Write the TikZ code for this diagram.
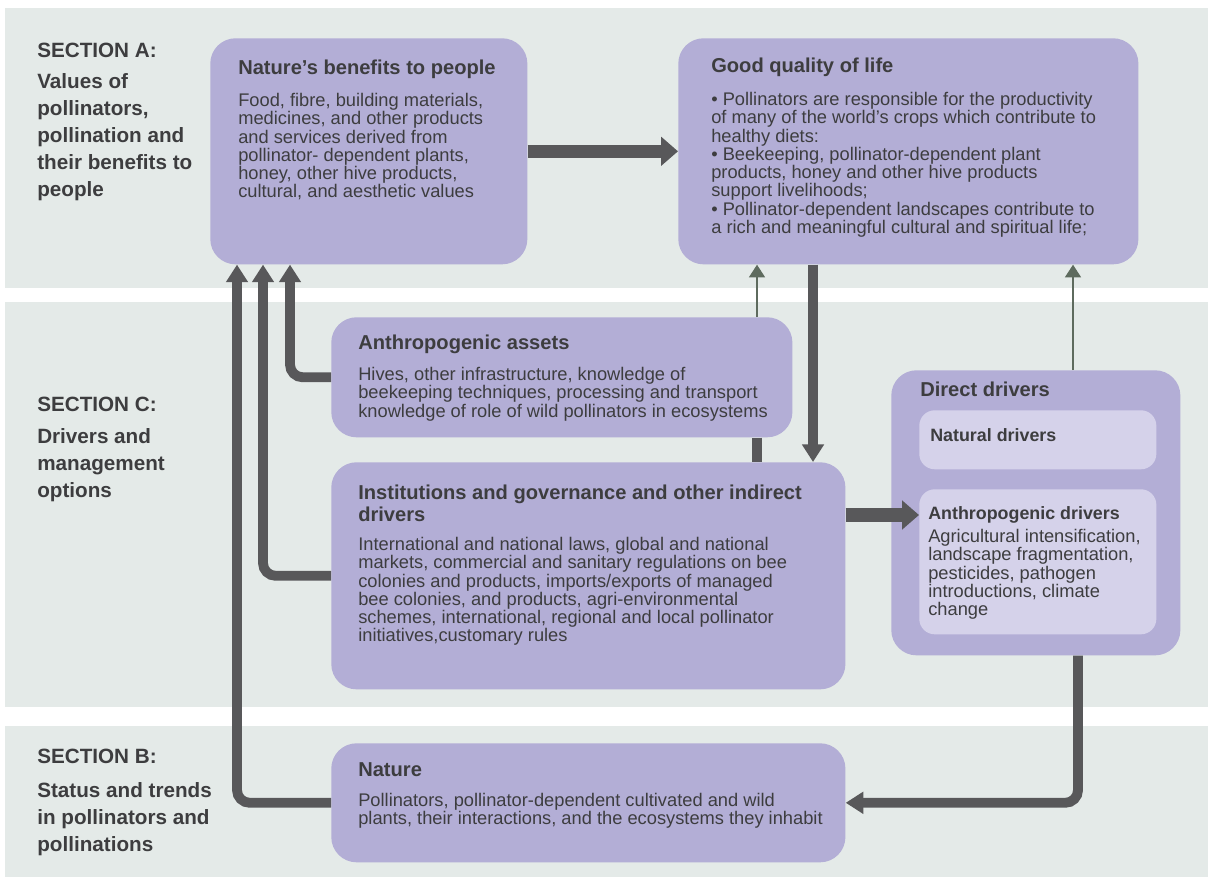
\documentclass[tikz,border=0pt]{standalone}
\usepackage{fontspec}
\setmainfont{Liberation Sans}
\usetikzlibrary{arrows.meta,calc}

\definecolor{bandgrey}{HTML}{E4EAE8}
\definecolor{boxlilac}{HTML}{B3AED6}
\definecolor{innerlilac}{HTML}{D5D2EA}
\definecolor{arrowgrey}{HTML}{58585A}
\definecolor{thingreen}{HTML}{5E6B5E}
\definecolor{textgrey}{HTML}{3D3D3F}

\tikzset{
  band/.style={fill=bandgrey,draw=none},
  panel/.style={fill=boxlilac,draw=none,rounded corners=18pt,anchor=north west,inner sep=0pt},
  subpanel/.style={fill=innerlilac,draw=none,rounded corners=11pt,anchor=north west,inner sep=0pt},
  heading/.style={anchor=north west,inner sep=0pt,text=textgrey,align=left,
    font=\fontsize{14.3}{15.4}\selectfont\bfseries},
  subheading/.style={heading,font=\fontsize{12.7}{14}\selectfont\bfseries},
  bodytext/.style={anchor=north west,inner sep=0pt,text=textgrey,align=left,
    font=\fontsize{13}{13}\selectfont},
  sectiontitle/.style={anchor=north west,inner sep=0pt,text=textgrey,align=left,
    font=\fontsize{14.7}{19.2}\selectfont\bfseries},
  flow/.style={draw=arrowgrey,line width=7pt,rounded corners=9pt,
    -{Triangle[width=15pt,length=12.5pt]}},
  wideflow/.style={flow,line width=9.5pt,-{Triangle[width=20pt,length=12pt]}},
  link/.style={draw=arrowgrey,line width=7pt},
  feedback/.style={draw=thingreen,line width=2pt,-{Triangle[width=11pt,length=9pt]}},
}

\begin{document}
\begin{tikzpicture}[x=0.025cm,y=-0.025cm]
    \useasboundingbox (0,0) rectangle (1208,879);

    %%%% Section bands %%%%%%%%%%%%%%%%%%%%%%%%%%%%%%%%%%%%%%%%%%%%%%%%%%%
    \path[band] (5,8) rectangle (1208,288);
    \path[band] (5,302) rectangle (1208,707);
    \path[band] (5,726) rectangle (1208,877);

    \node[sectiontitle] (secA) at (37,43) {SECTION A:};
    \node[sectiontitle] (secAtext) at (37,73)
      {Values of\\pollinators,\\pollination and\\their benefits to\\people};
    \node[sectiontitle] (secC) at (37,397) {SECTION C:};
    \node[sectiontitle] (secCtext) at (37,428)
      {Drivers and\\management\\options};
    \node[sectiontitle] (secB) at (37,749) {SECTION B:};
    \node[sectiontitle] (secBtext) at (37,782)
      {Status and trends\\in pollinators and\\pollinations};

    %%%% Section A boxes %%%%%%%%%%%%%%%%%%%%%%%%%%%%%%%%%%%%%%%%%%%%%%%%%
    \node[panel,minimum width=7.925cm,minimum height=5.65cm] (benefits) at (210,38) {};
    \node[heading] (benefitsHead) at ($(benefits.north west)+(28,22)$)
      {Nature’s benefits to people};
    \node[bodytext] (benefitsBody) at ($(benefits.north west)+(28,55)$)
      {Food, fibre, building materials,\\medicines, and other products\\
       and services derived from\\pollinator- dependent plants,\\
       honey, other hive products,\\cultural, and aesthetic values};

    \node[panel,minimum width=11.5cm,minimum height=5.65cm] (life) at (678,38) {};
    \node[heading] (lifeHead) at ($(life.north west)+(33,20)$) {Good quality of life};
    \node[bodytext] (lifeBody) at ($(life.north west)+(33,54)$)
      {• Pollinators are responsible for the productivity\\
       of many of the world’s crops which contribute to\\
       healthy diets:\\
       • Beekeeping, pollinator-dependent plant\\
       products, honey and other hive products\\
       support livelihoods;\\
       • Pollinator-dependent landscapes contribute to\\
       a rich and meaningful cultural and spiritual life;};

    %%%% Section C boxes %%%%%%%%%%%%%%%%%%%%%%%%%%%%%%%%%%%%%%%%%%%%%%%%%
    \node[panel,minimum width=11.525cm,minimum height=3cm] (assets) at (331,317) {};
    \node[heading] (assetsHead) at ($(assets.north west)+(27,18)$) {Anthropogenic assets};
    \node[bodytext] (assetsBody) at ($(assets.north west)+(27,50)$)
      {Hives, other infrastructure, knowledge of\\
       beekeeping techniques, processing and transport\\
       knowledge of role of wild pollinators in ecosystems};

    \node[panel,minimum width=12.85cm,minimum height=5.675cm] (inst) at (331,462) {};
    \node[heading] (instHead) at ($(inst.north west)+(27,23)$)
      {Institutions and governance and other indirect\\drivers};
    \node[bodytext] (instBody) at ($(inst.north west)+(27,75)$)
      {International and national laws, global and national\\
       markets, commercial and sanitary regulations on bee\\
       colonies and products, imports/exports of managed\\
       bee colonies, and products, agri-environmental\\
       schemes, international, regional and local pollinator\\
       initiatives,customary rules};

    \node[panel,minimum width=7.225cm,minimum height=7.125cm] (direct) at (891,370) {};
    \node[heading] (directHead) at ($(direct.north west)+(29,12)$) {Direct drivers};
    \node[subpanel,minimum width=5.925cm,minimum height=1.475cm] (natural) at (919,410) {};
    \node[subheading] (naturalHead) at ($(natural.north west)+(11,18)$) {Natural drivers};
    \node[subpanel,minimum width=5.925cm,minimum height=3.625cm] (anthro) at (919,489) {};
    \node[subheading] (anthroHead) at ($(anthro.north west)+(9,17)$) {Anthropogenic drivers};
    \node[bodytext] (anthroBody) at ($(anthro.north west)+(9,40)$)
      {Agricultural intensification,\\landscape fragmentation,\\
       pesticides, pathogen\\introductions, climate\\change};

    %%%% Section B box %%%%%%%%%%%%%%%%%%%%%%%%%%%%%%%%%%%%%%%%%%%%%%%%%%%
    \node[panel,minimum width=12.85cm,minimum height=2.975cm] (nature) at (331,743) {};
    \node[heading] (natureHead) at ($(nature.north west)+(27,19)$) {Nature};
    \node[bodytext] (natureBody) at ($(nature.north west)+(27,50)$)
      {Pollinators, pollinator-dependent cultivated and wild\\
       plants, their interactions, and the ecosystems they inhabit};

    %%%% Connectors %%%%%%%%%%%%%%%%%%%%%%%%%%%%%%%%%%%%%%%%%%%%%%%%%%%%%
    \draw[wideflow] (benefits.east) -- (life.west);

    \draw[flow] (nature.west) -| ($(benefits.south west)+(27,0)$);
    \draw[flow] (inst.west) -| ($(benefits.south west)+(53,0)$);
    \draw[flow] (assets.west) -| ($(benefits.south west)+(80,0)$);

    \coordinate (assetsTop) at ($(assets.north west)+(426,0)$);
    \coordinate (assetsFoot) at ($(assets.south west)+(426,0)$);
    \draw[feedback] (assetsTop) -- (assetsTop |- life.south);
    \draw[link] (assetsFoot) -- (assetsFoot |- inst.north);

    \coordinate (lifeFoot) at ($(life.south west)+(135,0)$);
    \draw[flow] (lifeFoot) -- (lifeFoot |- inst.north);

    \coordinate (instOut) at ($(inst.north east)+(0,53)$);
    \draw[wideflow] (instOut) -- (instOut -| anthro.west);

    \coordinate (directTop) at ($(direct.north west)+(182,0)$);
    \draw[feedback] (directTop) -- (directTop |- life.south);
    \draw[flow] ($(direct.south west)+(187,0)$) |- (nature.east);
\end{tikzpicture}
\end{document}
